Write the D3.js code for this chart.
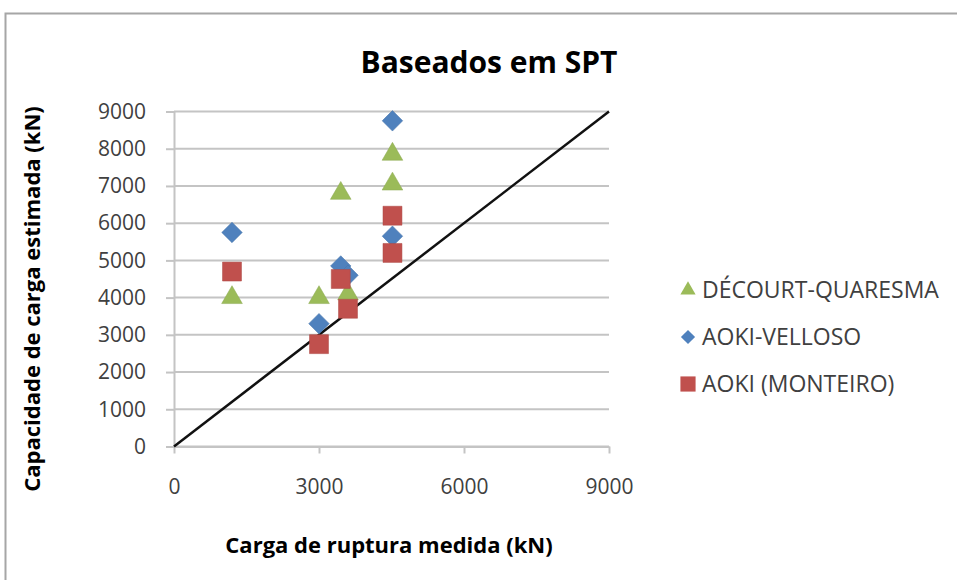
<!DOCTYPE html>
<html>
<head>
<meta charset="utf-8">
<script src="https://cdn.jsdelivr.net/npm/d3@7"></script>
<style>
  body { margin: 0; background: #fff; }
  svg { display: block; }
</style>
</head>
<body>
<div id="chart"></div>
<script>
// measured load (kN), one x per pile
var measured = [1200, 3000, 3450, 3600, 4520, 4520];
// estimated capacity (kN) per method
var decourtQuaresma = [4000, 4000, 6800, 4100, 7850, 7050];
var aokiVelloso = [5750, 3300, 4850, 4600, 8750, 5650];
var aokiMonteiro = [4700, 2750, 4500, 3700, 6200, 5200];
var seriesNames = ["DÉCOURT-QUARESMA", "AOKI-VELLOSO", "AOKI (MONTEIRO)"];
var tickValues = [0, 3000, 6000, 9000];
var yTickValues = [0, 1000, 2000, 3000, 4000, 5000, 6000, 7000, 8000, 9000];
var lineEnds = [0, 9000];

var width = 957, height = 580;
var font = "'Open Sans', 'Noto Sans', sans-serif";

var svg = d3.select("#chart").append("svg")
    .attr("width", width)
    .attr("height", height);

// chart frame
svg.append("rect")
    .attr("x", 5.5).attr("y", 13.5)
    .attr("width", 1000).attr("height", 1000)
    .attr("fill", "#fff")
    .attr("stroke", "#a6a6a6")
    .attr("stroke-width", 2);

var x = d3.scaleLinear().domain([0, 9000]).range([174, 609]);
var y = d3.scaleLinear().domain([0, 9000]).range([446.5, 111.5]);

// horizontal gridlines
svg.append("g")
    .selectAll("line")
    .data(yTickValues)
    .join("line")
    .attr("x1", x(0)).attr("x2", x(9000))
    .attr("y1", function(d) { return y(d); })
    .attr("y2", function(d) { return y(d); })
    .attr("stroke", "#c4c4c4")
    .attr("stroke-width", 2);

// y axis
var yAxis = svg.append("g")
    .attr("transform", "translate(" + x(0) + ",0)")
    .call(d3.axisLeft(y).tickValues(yTickValues).tickFormat(d3.format("d"))
      .tickSize(8).tickPadding(20).tickSizeOuter(0));

// x axis
var xAxis = svg.append("g")
    .attr("transform", "translate(0," + y(0) + ")")
    .call(d3.axisBottom(x).tickValues(tickValues).tickFormat(d3.format("d"))
      .tickSize(7).tickPadding(26).tickSizeOuter(0));

[yAxis, xAxis].forEach(function(ax) {
  ax.select(".domain").attr("stroke", "#c4c4c4").attr("stroke-width", 2);
  ax.selectAll(".tick line").attr("stroke", "#c4c4c4").attr("stroke-width", 2);
  ax.selectAll(".tick text")
    .attr("fill", "#404040")
    .style("font-family", font)
    .style("font-size", "21px");
});

// 1:1 reference line
svg.append("line")
    .attr("x1", x(lineEnds[0])).attr("y1", y(lineEnds[0]))
    .attr("x2", x(lineEnds[1])).attr("y2", y(lineEnds[1]))
    .attr("stroke", "#111")
    .attr("stroke-width", 2.5);

var series = [
  { name: seriesNames[0], values: decourtQuaresma, color: "#9bbb59", shape: d3.symbolTriangle, size: 185, rot: 0, legSize: 100 },
  { name: seriesNames[1], values: aokiVelloso, color: "#4f81bd", shape: d3.symbolSquare, size: 210, rot: 45, legSize: 100 },
  { name: seriesNames[2], values: aokiMonteiro, color: "#c0504d", shape: d3.symbolSquare, size: 360, rot: 0, legSize: 230 }
];

series.forEach(function(s) {
  var sym = d3.symbol().type(s.shape).size(s.size);
  svg.append("g")
    .selectAll("path")
    .data(s.values)
    .join("path")
    .attr("d", sym)
    .attr("transform", function(d, i) {
      return "translate(" + x(measured[i]) + "," + y(d) + ") rotate(" + s.rot + ")";
    })
    .attr("fill", s.color)
    .attr("stroke", d3.color(s.color).darker(0.3))
    .attr("stroke-width", 0.5);
});

// legend
var legend = svg.append("g").attr("transform", "translate(688,290)");
series.forEach(function(s, i) {
  var g = legend.append("g").attr("transform", "translate(0," + (i * 47) + ")");
  g.append("path")
    .attr("d", d3.symbol().type(s.shape).size(s.legSize))
    .attr("transform", "rotate(" + s.rot + ")")
    .attr("fill", s.color);
  g.append("text")
    .attr("x", 14).attr("y", 0)
    .attr("dy", "0.35em")
    .attr("fill", "#404040")
    .style("font-family", font)
    .style("font-size", "23px")
    .text(s.name);
});

// title
svg.append("text")
    .attr("x", 489).attr("y", 73)
    .attr("text-anchor", "middle")
    .style("font-family", font)
    .style("font-weight", "bold")
    .style("font-size", "30px")
    .attr("fill", "#000")
    .text("Baseados em SPT");

// axis titles
svg.append("text")
    .attr("x", 389).attr("y", 553)
    .attr("text-anchor", "middle")
    .style("font-family", font)
    .style("font-weight", "bold")
    .style("font-size", "22px")
    .attr("fill", "#000")
    .text("Carga de ruptura medida (kN)");

svg.append("text")
    .attr("transform", "translate(40,299) rotate(-90)")
    .attr("text-anchor", "middle")
    .style("font-family", font)
    .style("font-weight", "bold")
    .style("font-size", "22px")
    .attr("fill", "#000")
    .text("Capacidade de carga estimada (kN)");
</script>
</body>
</html>
